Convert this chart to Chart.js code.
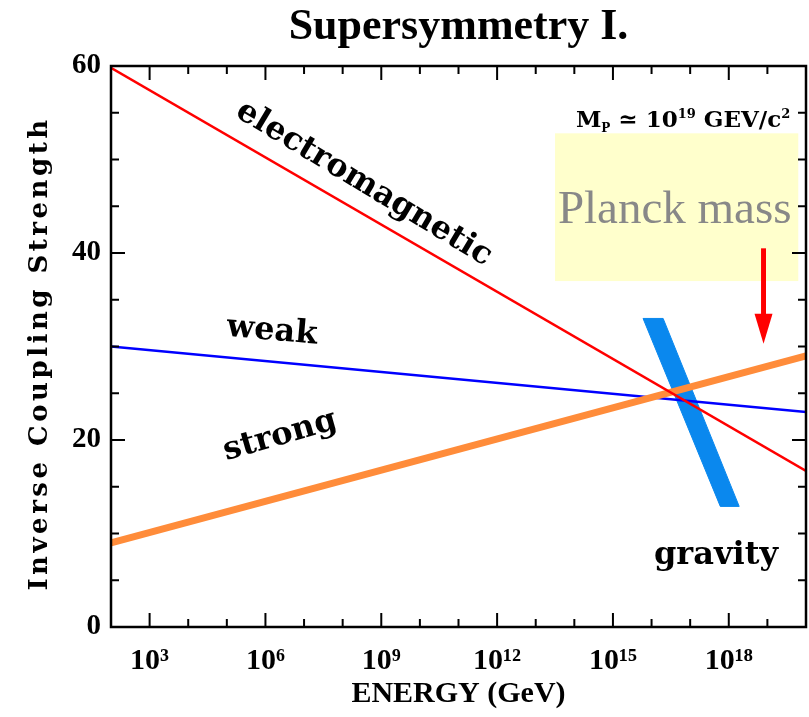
<!DOCTYPE html>
<html><head><meta charset="utf-8">
<script src="https://cdn.jsdelivr.net/npm/chart.js@4.4.0/dist/chart.umd.min.js"></script>
<style>html,body{margin:0;padding:0;background:#fff;}#wrap{width:809px;height:717px;}</style>
</head><body><div id="wrap"><canvas id="c" width="809" height="717"></canvas></div>
<script>
// ---- data (energies in GeV) ----
const energyRange = [1e2, 1e20];
const electromagnetic = [59.8, 16.7];
const weak = [30.0, 23.0];
const strong = [9.0, 29.0];
const gravityE = [Math.pow(10,15.78), Math.pow(10,16.30), Math.pow(10,18.27), Math.pow(10,17.78), Math.pow(10,15.78)];
const gravityY = [33.0, 33.0, 12.9, 12.9, 33.0];
const xTickValues = [1e3, 1e6, 1e9, 1e12, 1e15, 1e18];
const xTickLabels = ['10³', '10⁶', '10⁹', '10¹²', '10¹⁵', '10¹⁸'];
const yTickValues = [0, 20, 40, 60];
const planckBoxE = [Math.pow(10,13.5), Math.pow(10,19.8)];
const planckBoxY = [37.0, 52.8];
const arrowE = Math.pow(10,18.9);
const arrowY = [40.5, 30.3];
const curveLabels = ['electromagnetic', 'weak', 'strong', 'gravity'];
const curveLabelE = [Math.pow(10,8.55), Math.pow(10,6.17), Math.pow(10,6.38), Math.pow(10,17.67)];
const curveLabelY = [47.4, 31.6, 20.4, 7.6];
const curveLabelAngle = [31, 5, -16, 0];
const planckText = 'Planck mass';
const planckTextE = Math.pow(10,16.6);
const planckTextY = 43.2;
const massLabelE = Math.pow(10,14.04);
const massLabelY = 53.5;
const yTitle = 'Inverse Coupling Strength';

const BOLD = '"DejaVu Serif"';
const TIMES = '"Liberation Serif"';
const pts = (xs, ys) => xs.map((v, i) => ({x: v, y: ys[i]}));

const overlay = {
  id: 'overlay',
  beforeDatasetsDraw(chart) {
    const {ctx, chartArea: a, scales: {x, y}} = chart;
    ctx.save();
    // y axis title (letter-spaced)
    ctx.fillStyle = '#000';
    ctx.font = 'bold 26px ' + BOLD;
    ctx.textAlign = 'center'; ctx.textBaseline = 'middle';
    if ('letterSpacing' in ctx) ctx.letterSpacing = '3.5px';
    ctx.translate(40, (a.top + a.bottom) / 2 + 7);
    ctx.rotate(-Math.PI / 2);
    ctx.fillText(yTitle, 0, 0);
    ctx.restore();
    ctx.save();
    const x0 = x.getPixelForValue(planckBoxE[0]), x1 = x.getPixelForValue(planckBoxE[1]);
    const y0 = y.getPixelForValue(planckBoxY[1]), y1 = y.getPixelForValue(planckBoxY[0]);
    ctx.fillStyle = '#ffffcc';
    ctx.fillRect(x0, y0, x1 - x0, y1 - y0);
    ctx.font = '47px ' + TIMES;
    ctx.fillStyle = '#888888';
    ctx.textAlign = 'center';
    ctx.textBaseline = 'alphabetic';
    ctx.fillText(planckText, x.getPixelForValue(planckTextE), y.getPixelForValue(planckTextY));
    ctx.restore();
  },
  afterDatasetsDraw(chart) {
    const {ctx, scales: {x, y}} = chart;
    ctx.save();
    // arrow
    const ax = x.getPixelForValue(arrowE);
    const ay0 = y.getPixelForValue(arrowY[0]), ay1 = y.getPixelForValue(arrowY[1]);
    ctx.strokeStyle = '#ff0000'; ctx.fillStyle = '#ff0000';
    ctx.lineWidth = 5;
    ctx.beginPath(); ctx.moveTo(ax, ay0); ctx.lineTo(ax, ay1 - 26); ctx.stroke();
    ctx.beginPath(); ctx.moveTo(ax - 9, ay1 - 30); ctx.lineTo(ax + 9, ay1 - 30); ctx.lineTo(ax, ay1); ctx.closePath(); ctx.fill();
    // curve labels
    ctx.fillStyle = '#000';
    ctx.font = 'bold 32px ' + BOLD;
    ctx.textAlign = 'center'; ctx.textBaseline = 'middle';
    curveLabels.forEach((t, i) => {
      ctx.save();
      ctx.translate(x.getPixelForValue(curveLabelE[i]), y.getPixelForValue(curveLabelY[i]));
      ctx.rotate(curveLabelAngle[i] * Math.PI / 180);
      ctx.fillText(t, 0, 0);
      ctx.restore();
    });
    // Planck mass label
    const segs = [['M', 0, 23], ['P', 5, 12], [' \u2243 10', 0, 23], ['19', -9, 13], [' GEV/c', 0, 23], ['2', -9, 13]];
    let px = x.getPixelForValue(massLabelE);
    const py = y.getPixelForValue(massLabelY);
    ctx.textAlign = 'left'; ctx.textBaseline = 'alphabetic';
    segs.forEach(([t, dy, s]) => {
      ctx.font = 'bold ' + s + 'px ' + BOLD;
      ctx.fillText(t, px, py + dy);
      px += ctx.measureText(t).width;
    });
    ctx.restore();
  },
  afterDraw(chart) {
    const {ctx, chartArea: a, scales: {x, y}} = chart;
    ctx.save();
    ctx.strokeStyle = '#000';
    ctx.lineWidth = 2.5;
    ctx.strokeRect(a.left, a.top, a.right - a.left, a.bottom - a.top);
    ctx.lineWidth = 2;
    ctx.beginPath();
    for (let v = 0; v <= 60; v += 5) {
      const p = y.getPixelForValue(v);
      const L = (v % 20 === 0) ? 14 : 8;
      ctx.moveTo(a.left, p); ctx.lineTo(a.left + L, p);
      ctx.moveTo(a.right, p); ctx.lineTo(a.right - L, p);
    }
    for (let d = 3; d <= 19; d++) {
      const p = x.getPixelForValue(Math.pow(10, d));
      const L = (d % 3 === 0) ? 14 : 8;
      ctx.moveTo(p, a.bottom); ctx.lineTo(p, a.bottom - L);
      ctx.moveTo(p, a.top); ctx.lineTo(p, a.top + L);
    }
    ctx.stroke();
    ctx.restore();
  }
};

new Chart(document.getElementById('c'), {
  type: 'scatter',
  data: {
    datasets: [
      {label: 'electromagnetic', data: pts(energyRange, electromagnetic), showLine: true, borderColor: '#ff0000', borderWidth: 2.5, pointRadius: 0, fill: false},
      {label: 'strong', data: pts(energyRange, strong), showLine: true, borderColor: '#ff8c3a', borderWidth: 7, pointRadius: 0, fill: false},
      {label: 'weak', data: pts(energyRange, weak), showLine: true, borderColor: '#0000ff', borderWidth: 2.5, pointRadius: 0, fill: false},
      {label: 'gravity', data: pts(gravityE, gravityY), showLine: true, borderColor: '#0a88ee', backgroundColor: '#0a88ee', borderWidth: 1, pointRadius: 0, fill: 'shape'}
    ]
  },
  options: {
    responsive: false,
    animation: false,
    devicePixelRatio: 1,
    layout: {padding: {top: 0, right: 3, left: 0, bottom: 0}},
    plugins: {
      legend: {display: false},
      tooltip: {enabled: false},
      title: {display: true, fullSize: false, text: 'Supersymmetry I.', color: '#000', font: {family: TIMES, size: 44, weight: 'bold', lineHeight: 1}, padding: {top: 6, bottom: 16}}
    },
    scales: {
      x: {
        type: 'logarithmic', min: energyRange[0], max: energyRange[1],
        grid: {display: false, drawTicks: false}, border: {display: false},
        afterBuildTicks: s => { s.ticks = xTickValues.map(v => ({value: v})); },
        afterFit: s => { s.height = 90; },
        ticks: {autoSkip: false, maxRotation: 0, padding: 16, color: '#000', font: {family: TIMES, size: 30, weight: 'bold'},
          callback: (v, i) => xTickLabels[i]},
        title: {display: true, text: 'ENERGY (GeV)', color: '#000', font: {family: TIMES, size: 30, weight: 'bold', lineHeight: 1}, padding: {bottom: 8}}
      },
      y: {
        type: 'linear', min: 0, max: 60,
        grid: {display: false, drawTicks: false}, border: {display: false},
        afterBuildTicks: s => { s.ticks = yTickValues.map(v => ({value: v})); },
        afterFit: s => { s.width = 111; },
        ticks: {padding: 10, color: '#000', font: {family: TIMES, size: 29, weight: 'bold'}},
        title: {display: false}
      }
    }
  },
  plugins: [overlay]
});
</script></body></html>
